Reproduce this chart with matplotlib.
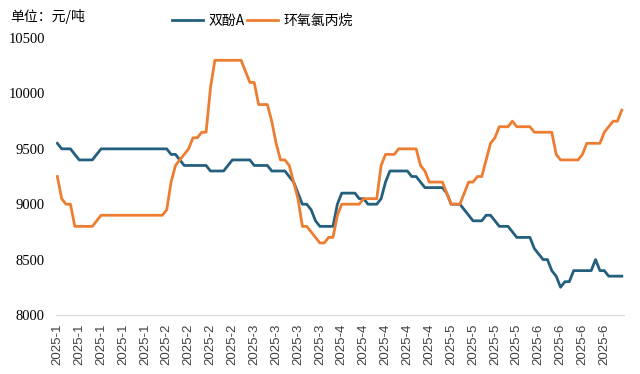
import numpy as np
import matplotlib.pyplot as plt

plt.rcParams['font.family'] = ['Noto Sans CJK SC', 'DejaVu Sans']

# 双酚A daily price, yuan/ton
bpa = [9550, 9500, 9500, 9500, 9450, 9400, 9400, 9400, 9400, 9450,
       9500, 9500, 9500, 9500, 9500, 9500, 9500, 9500, 9500, 9500,
       9500, 9500, 9500, 9500, 9500, 9500, 9450, 9450, 9400, 9350,
       9350, 9350, 9350, 9350, 9350, 9300, 9300, 9300, 9300, 9350,
       9400, 9400, 9400, 9400, 9400, 9350, 9350, 9350, 9350, 9300,
       9300, 9300, 9300, 9250, 9200, 9100, 9000, 9000, 8950, 8850,
       8800, 8800, 8800, 8800, 9000, 9100, 9100, 9100, 9100, 9050,
       9050, 9000, 9000, 9000, 9050, 9200, 9300, 9300, 9300, 9300,
       9300, 9250, 9250, 9200, 9150, 9150, 9150, 9150, 9150, 9100,
       9000, 9000, 9000, 8950, 8900, 8850, 8850, 8850, 8900, 8900,
       8850, 8800, 8800, 8800, 8750, 8700, 8700, 8700, 8700, 8600,
       8550, 8500, 8500, 8400, 8350, 8250, 8300, 8300, 8400, 8400,
       8400, 8400, 8400, 8500, 8400, 8400, 8350, 8350, 8350, 8350]

# 环氧氯丙烷 daily price, yuan/ton
ech = [9250, 9050, 9000, 9000, 8800, 8800, 8800, 8800, 8800, 8850,
       8900, 8900, 8900, 8900, 8900, 8900, 8900, 8900, 8900, 8900,
       8900, 8900, 8900, 8900, 8900, 8950, 9200, 9350, 9400, 9450,
       9500, 9600, 9600, 9650, 9650, 10050, 10300, 10300, 10300, 10300,
       10300, 10300, 10300, 10200, 10100, 10100, 9900, 9900, 9900, 9750,
       9550, 9400, 9400, 9350, 9200, 9050, 8800, 8800, 8750, 8700,
       8650, 8650, 8700, 8700, 8900, 9000, 9000, 9000, 9000, 9000,
       9050, 9050, 9050, 9050, 9350, 9450, 9450, 9450, 9500, 9500,
       9500, 9500, 9500, 9350, 9300, 9200, 9200, 9200, 9200, 9100,
       9000, 9000, 9000, 9100, 9200, 9200, 9250, 9250, 9400, 9550,
       9600, 9700, 9700, 9700, 9750, 9700, 9700, 9700, 9700, 9650,
       9650, 9650, 9650, 9650, 9450, 9400, 9400, 9400, 9400, 9400,
       9450, 9550, 9550, 9550, 9550, 9650, 9700, 9750, 9750, 9850]

# x tick labels, one every 5 days
tick_labels = ['2025-1'] * 5 + ['2025-2'] * 4 + ['2025-3'] * 4 + \
              ['2025-4'] * 5 + ['2025-5'] * 4 + ['2025-6'] * 4

x = np.arange(len(bpa))

fig = plt.figure(figsize=(6.4, 3.74), dpi=100)
ax = fig.add_axes([0.0875, 0.158, 0.8875, 0.74])

ax.plot(x, bpa, color='#245F7D', lw=2.0, label='双酚A')
ax.plot(x, ech, color='#ED7D31', lw=2.0, label='环氧氯丙烷')

ax.set_ylim(8000, 10500)
ax.set_yticks([8000, 8500, 9000, 9500, 10000, 10500])
ax.set_xlim(-0.3, len(bpa) - 0.5)
ax.set_xticks(np.arange(len(tick_labels)) * 5)
ax.set_xticklabels(tick_labels, rotation=90, fontsize=9.5,
                   family='Liberation Sans', color='#404040')
for lab in ax.get_yticklabels():
    lab.set_family('Liberation Serif')
    lab.set_fontsize(10.5)
ax.tick_params(axis='both', length=0)
ax.tick_params(axis='y', pad=8)
ax.tick_params(axis='x', pad=6)

for s in ['top', 'right', 'left']:
    ax.spines[s].set_visible(False)
ax.spines['bottom'].set_color('#d9d9d9')

fig.text(0.016, 0.955, '单位：元/吨', fontsize=10, va='center')
fig.legend(loc='center', bbox_to_anchor=(0.41, 0.945), ncol=2, frameon=False,
           fontsize=10, handlelength=2.2, columnspacing=0.2, handletextpad=0.4)

fig.savefig('out.png', dpi=100)
